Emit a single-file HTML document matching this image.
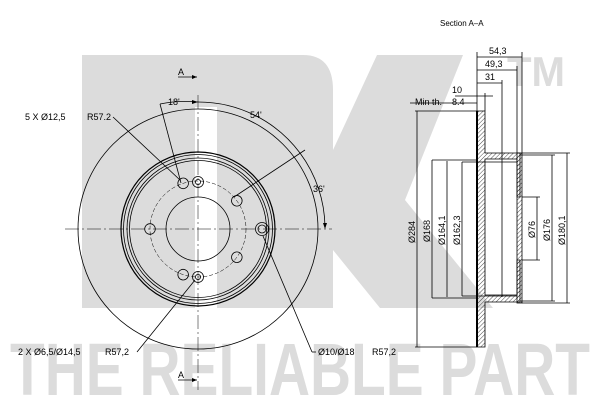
<!DOCTYPE html>
<html><head><meta charset="utf-8"><style>html,body{margin:0;padding:0;background:#fff}svg{display:block}</style></head>
<body>
<svg width="600" height="400" viewBox="0 0 600 400" xmlns="http://www.w3.org/2000/svg" font-family="Liberation Sans, sans-serif">
<defs>
<pattern id="h" width="3" height="3" patternUnits="userSpaceOnUse" patternTransform="rotate(45)">
<line x1="0" y1="0" x2="0" y2="3" stroke="#000" stroke-width="0.7"/>
</pattern>
</defs>
<!-- watermark -->
<g fill="#dcdcdc">
<rect x="82" y="55" width="113" height="253"/>
<path d="M195 55 H303 Q333 55 333 90 V308 H217 V107 H195 Z"/>
<path d="M333 150 L377 55 H463 L405 200 L493 308 H380 L333 250 Z"/>
<text x="507" y="86" font-size="42" font-weight="bold" textLength="58" lengthAdjust="spacingAndGlyphs">TM</text>
<text x="10" y="395" font-size="74" font-weight="bold" textLength="580" lengthAdjust="spacingAndGlyphs">THE RELIABLE PART</text>
</g>
<!-- front view -->
<g fill="none" stroke="#000" stroke-width="0.8">
<line x1="65" y1="229" x2="332" y2="229" stroke-width="0.5" stroke-dasharray="14,3,2,3"/>
<line x1="198" y1="95" x2="198" y2="390" stroke-width="0.5" stroke-dasharray="14,3,2,3"/>
<circle cx="198" cy="229" r="120"/>
<circle cx="198" cy="229" r="77" stroke-width="1.2"/>
<circle cx="198" cy="229" r="74.5"/>
<circle cx="198" cy="229" r="71"/>
<circle cx="198" cy="229" r="68.5"/>
<circle cx="198" cy="229" r="48" stroke-width="0.5" stroke-dasharray="4,2"/>
<circle cx="198" cy="229" r="32"/>
<g transform="translate(198,229)">
<g transform="rotate(-18)"><circle cx="0" cy="-48" r="5.3"/></g>
<g transform="rotate(54)"><circle cx="0" cy="-48" r="5.3"/></g>
<g transform="rotate(126)"><circle cx="0" cy="-48" r="5.3"/></g>
<g transform="rotate(198)"><circle cx="0" cy="-48" r="5.3"/></g>
<g transform="rotate(270)"><circle cx="0" cy="-48" r="5.3"/></g>
<circle cx="0" cy="-47" r="5.5"/><circle cx="0" cy="-47" r="2.6"/>
<circle cx="0" cy="48" r="5.5"/><circle cx="0" cy="48" r="2.6"/>
<circle cx="64" cy="0" r="6.5"/><circle cx="64" cy="0" r="4"/>
</g>
<path d="M160 104 A 127 127 0 0 1 198 102"/>
<path d="M198 102 A 127 127 0 0 1 300 153"/>
<path d="M300 153 A 127 127 0 0 1 325 227"/>
<line x1="160" y1="104" x2="181" y2="183"/>
<line x1="234" y1="197" x2="305" y2="150"/>
<line x1="113" y1="117" x2="180" y2="180"/>
<line x1="137" y1="352" x2="195" y2="280"/>
<line x1="312" y1="352" x2="263" y2="236"/>
<line x1="312" y1="352" x2="316" y2="352"/>
<line x1="178" y1="77" x2="197" y2="77"/>
<line x1="178" y1="380" x2="197" y2="380"/>
</g>
<g fill="#000">
<path d="M197 77 l-5 -2 v4z"/><path d="M197 380 l-5 -2 v4z"/>
<path d="M325 229 l-2 -6 h4z"/>
<path d="M198 102 l-6 -2 v4z"/>
</g>
<g font-size="9" fill="#000">
<text x="25" y="120">5 X Ø12,5</text>
<text x="87" y="120">R57.2</text>
<text x="178" y="75">A</text>
<text x="178" y="378">A</text>
<text x="168" y="105">18'</text>
<text x="250" y="118">54'</text>
<text x="313" y="192">36'</text>
<text x="18" y="355">2 X Ø6,5/Ø14,5</text>
<text x="105" y="355">R57,2</text>
<text x="318" y="355">Ø10/Ø18</text>
<text x="372" y="355">R57,2</text>
<text x="440" y="26" font-size="8">Section A–A</text>
</g>
<!-- section view -->
<g stroke="#000" stroke-width="0.8">
<path d="M477 111 H485 V153 H520 V197 H517 V159 H485 V295 H517 V260 H520 V302 H485 V347 H477 Z" fill="url(#h)"/>
<line x1="477" y1="111" x2="477" y2="347" stroke-width="2"/>
<rect x="517" y="153" width="5" height="150" fill="url(#h)"/>
<g fill="none">
<line x1="432" y1="160" x2="477" y2="160"/><line x1="432" y1="298" x2="477" y2="298"/>
<line x1="462" y1="162" x2="517" y2="162"/><line x1="462" y1="296" x2="517" y2="296"/>
<line x1="522" y1="197" x2="540" y2="197"/><line x1="522" y1="260" x2="540" y2="260"/>
<line x1="520" y1="155" x2="555" y2="155"/><line x1="520" y1="301" x2="555" y2="301"/>
<line x1="522" y1="153" x2="570" y2="153"/><line x1="522" y1="303" x2="570" y2="303"/>
<line x1="415" y1="111" x2="477" y2="111"/><line x1="415" y1="347" x2="477" y2="347"/>
<line x1="417" y1="111" x2="417" y2="347"/>
<line x1="432" y1="160" x2="432" y2="298"/>
<line x1="447" y1="161" x2="447" y2="297"/>
<line x1="462" y1="162" x2="462" y2="296"/>
<line x1="537" y1="197" x2="537" y2="260"/>
<line x1="552" y1="155" x2="552" y2="301"/>
<line x1="567" y1="153" x2="567" y2="303"/>
<line x1="477" y1="52" x2="477" y2="111"/>
<line x1="522" y1="52" x2="522" y2="153"/>
<line x1="517" y1="66" x2="517" y2="153"/>
<line x1="502" y1="80" x2="502" y2="297"/>
<line x1="485" y1="93" x2="485" y2="111"/>
<line x1="477" y1="57" x2="522" y2="57"/>
<line x1="477" y1="70" x2="517" y2="70"/>
<line x1="477" y1="83" x2="502" y2="83"/>
<line x1="455" y1="96" x2="493" y2="96"/>
<line x1="410" y1="103" x2="477" y2="103"/>
</g>
</g>
<g font-size="9" fill="#000">
<text x="489" y="54">54,3</text>
<text x="485" y="67">49,3</text>
<text x="485" y="80">31</text>
<text x="452" y="93">10</text>
<text x="415" y="105">Min th.</text>
<text x="452" y="105">8.4</text>
<g transform="rotate(-90)">
<text x="-243" y="415">Ø284</text>
<text x="-242" y="430">Ø168</text>
<text x="-245" y="445">Ø164,1</text>
<text x="-245" y="460">Ø162,3</text>
<text x="-238" y="535">Ø76</text>
<text x="-241" y="550">Ø176</text>
<text x="-245" y="565">Ø180,1</text>
</g>
</g>
</svg>
</body></html>
